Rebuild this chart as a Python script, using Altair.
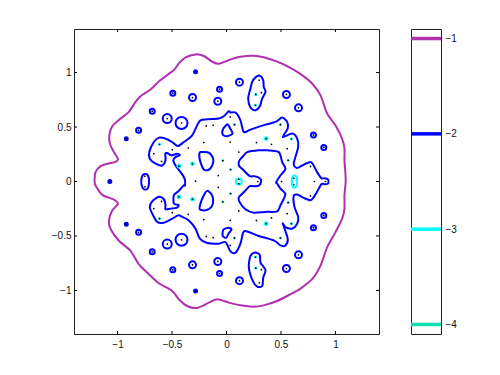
import altair as alt
import pandas as pd

# level -1 outer contour
c1 = [(-1.211,0.003),(-1.202,.086),(-1.156,.141),(-1.095,.163),(-1.018,.181),(-.997,.209),(-1.034,.27),(-1.07,.347),(-1.076,.424),(-1.049,.507),(-.972,.578),(-.896,.639),(-.835,.731),(-.789,.783),(-.697,.845),(-.606,.931),(-.483,1.023),(-.437,1.085),(-.376,1.14),(-.284,1.167),(-.208,1.152),(-.131,1.1),(-.07,1.081),(.037,1.12),(.128,1.146),(.25,1.155),(.342,1.14),(.465,1.1),(.587,1.044),(.694,.977),(.786,.9),(.862,.793),(.924,.624),(1.0,.516),(1.061,.393),(1.083,.301),(1.083,.194),(1.092,.071),(1.094,-.006),(1.083,-.129),(1.083,-.252),(1.061,-.344),(1.0,-.467),(.924,-.605),(.862,-.774),(.786,-.897),(.679,-.983),(.587,-1.035),(.465,-1.097),(.342,-1.137),(.25,-1.149),(.128,-1.137),(.021,-1.112),(-.085,-1.081),(-.162,-1.112),(-.269,-1.161),(-.361,-1.143),(-.438,-1.081),(-.498,-1.005),(-.621,-.934),(-.713,-.851),(-.805,-.759),(-.881,-.636),(-.988,-.544),(-1.064,-.436),(-1.08,-.359),(-1.049,-.267),(-.997,-.206),(-1.034,-.166),(-1.14,-.123),(-1.202,-.037)]

# level -2 contours
main2 = [(-.382,-.037),(-.382,.016),(-.406,.065),(-.468,.147),(-.489,.194),(-.468,.224),(-.428,.24),(-.452,.255),(-.507,.24),(-.544,.261),(-.562,.255),(-.56,.194),(-.59,.147),(-.651,.163),(-.704,.209),(-.709,.27),(-.667,.362),(-.621,.403),(-.56,.394),(-.498,.362),(-.447,.325),(-.392,.362),(-.315,.424),(-.269,.516),(-.239,.562),(-.177,.571),(-.071,.578),(-.025,.599),(.021,.645),(.037,.633),(.083,.633),(.128,.562),(.159,.454),(.22,.476),(.358,.522),(.45,.547),(.511,.587),(.557,.547),(.562,.486),(.517,.408),(.603,.44),(.649,.394),(.658,.316),(.617,.163),(.649,.123),(.694,.147),(.771,.178),(.80,.147),(.832,.086),(.871,.03),(.902,.03),(.933,.018),(.933,-.018),(.902,-.025),(.871,-.025),(.832,-.092),(.80,-.145),(.771,-.172),(.709,-.15),(.649,-.12),(.617,-.132),(.624,-.233),(.658,-.325),(.649,-.387),(.603,-.433),(.541,-.418),(.517,-.387),(.562,-.525),(.541,-.587),(.495,-.587),(.434,-.541),(.296,-.5),(.174,-.454),(.15,-.479),(.128,-.571),(.083,-.654),(.037,-.642),(-.009,-.556),(-.071,-.571),(-.177,-.565),(-.245,-.525),(-.284,-.433),(-.346,-.357),(-.406,-.325),(-.443,-.311),(-.498,-.341),(-.575,-.378),(-.636,-.371),(-.682,-.295),(-.704,-.233),(-.682,-.182),(-.621,-.141),(-.575,-.163),(-.56,-.212),(-.56,-.255),(-.514,-.249),(-.459,-.242),(-.438,-.218),(-.483,-.203),(-.483,-.126),(-.438,-.086),(-.392,-.034)]
hole2 = [(.119,.194),(.159,.24),(.19,.27),(.296,.286),(.373,.286),(.48,.27),(.511,.178),(.541,.117),(.495,.055),(.456,-.006),(.465,-.018),(.495,-.065),(.541,-.117),(.495,-.218),(.465,-.274),(.358,-.279),(.25,-.286),(.174,-.255),(.119,-.187),(.113,-.145),(.165,-.092),(.214,-.043),(.25,-.043),(.296,-.037),(.318,0),(.306,.03),(.257,.049),(.214,.049),(.159,.101),(.113,.147)]
left_inner_up = [(-.239,.27),(-.162,.264),(-.122,.209),(-.131,.147),(-.162,.108),(-.208,.11),(-.239,.178),(-.25,.24)]
left_inner_dn = [(-.177,-.086),(-.138,-.117),(-.122,-.172),(-.138,-.233),(-.193,-.264),(-.245,-.255),(-.239,-.203),(-.208,-.126)]
top_blob = [(-.039,.442),(-.028,.488),(.009,.525),(.028,.498),(.055,.442),(.018,.419),(-.018,.419)]
bottom_blob = [(-.037,-.488),(-.028,-.442),(.018,-.424),(.046,-.44),(.018,-.479),(0,-.516),(-.028,-.507)]
peanut_up = [(.266,.956),(.306,.971),(.337,.931),(.342,.869),(.358,.823),(.328,.762),(.306,.691),(.266,.654),(.22,.679),(.199,.762),(.22,.854),(.236,.915)]
peanut_dn = [(.266,-.651),(.306,-.676),(.312,-.744),(.358,-.814),(.337,-.882),(.328,-.959),(.282,-.965),(.241,-.912),(.205,-.79),(.22,-.682)]
left_loop = [(-.78,.03),(-.759,.067),(-.728,.065),(-.713,.03),(-.713,-.03),(-.728,-.069),(-.759,-.071),(-.78,-.03)]

# level -3 contours
cyan_tall = [(.624,.058),(.646,.035),(.648,0),(.646,-.035),(.624,-.058),(.602,-.035),(.6,0),(.602,.035)]

# rings, grouped by how wide they look
rings_tiny = [(-1.071,0),(-.92,.393),(-.284,1.007),(-.92,-.393),(-.284,-1.005)]
rings_small = [(-.682,.645),(-.493,.811),(-.064,.848),(-.807,.47),(.798,.427),(.893,.313),(-.682,-.645),(-.493,-.811),(-.064,-.845),(-.807,-.467),(.798,-.424),(.893,-.311)]
rings_mid = [(-.312,.771),(-.08,.737),(.119,.912),(.55,.799),(.661,.676),(-.312,-.765),(-.08,-.734),(.119,-.91),(.55,-.799),(.661,-.673)]
rings_big = [(-.544,.578),(-.544,-.574)]
rings_huge = [(-.413,.537),(-.413,-.535)]
cyan_ring = [(.113,0)]

# cyan spots
cyan_big = [(-.437,.141),(-.312,.163),(.364,.394),(-.437,-.141),(-.312,-.163),(.364,-.387)]
cyan_small = [(-.615,.341),(-.034,.191),(.495,.522),(.596,.39),(.566,.194),(.073,.522),(.266,.70),(.037,.11),(.269,.799),(-.615,-.341),(-.034,-.187),(.495,-.519),(.596,-.387),(.566,-.194),(.073,-.519),(.266,-.694),(.037,-.111),(.269,-.796)]

# other roots (black dots)
dots = [(-.186,.51),(-.122,.516),(.034,.362),(-.208,.357),(-.351,.307),(-.498,.292),(-.667,.255),(-.596,.184),(-.076,.055),(-.284,.003),(-.749,.049),(-.749,-.049),(.034,.593),(.113,.27),(.275,.357),(.413,.341),(.557,.301),(.771,.138),(.505,0),(.807,0),(.908,0),(.287,0),(.113,.02),(.113,-.02),(.618,.03),(.618,-.03),(.30,.93),(.32,.815),(-.596,-.182),(-.667,-.249),(-.498,-.286),(-.351,-.301),(-.208,-.35),(-.186,-.504),(-.122,-.516),(.034,-.357),(-.076,-.055),(.113,-.27),(.275,-.357),(.413,-.335),(.557,-.295),(.771,-.132),(.034,-.587),(.32,-.81),(.30,-.93)]

x_ticks = [-1, -0.5, 0, 0.5, 1]
y_ticks = [-1, -0.5, 0, 0.5, 1]
levels = [-1, -2, -3, -4]
level_colors = ["#B030B0", "#0000FF", "#00FFFF", "#10E0B0"]
DOM = [-1.4, 1.4]
W = H = 305

def frame(pts):
    return pd.DataFrame(pts, columns=["x", "y"]).assign(i=lambda d: range(len(d)))

def contours(named):
    return pd.concat([frame(p).assign(c=k) for k, p in named.items()], ignore_index=True)

x_scale = alt.Scale(domain=DOM, nice=False, zero=False)
y_scale = alt.Scale(domain=DOM, nice=False, zero=False)
x_axis = alt.Axis(values=x_ticks, format="~g", title=None, ticks=False, domain=False, grid=False, labelPadding=5)
y_axis = alt.Axis(values=y_ticks, format="~g", title=None, ticks=False, domain=False, grid=False,
                  labelPadding=3, minExtent=25, maxExtent=25)
X = alt.X("x:Q", scale=x_scale, axis=x_axis)
Y = alt.Y("y:Q", scale=y_scale, axis=y_axis)

def lines(named, color, width=2):
    return alt.Chart(contours(named)).mark_line(
        interpolate="cardinal-closed", tension=0.2, color=color, strokeWidth=width
    ).encode(x=X, y=Y, detail="c:N", order="i:Q")

def ring(pts, size, color="#0000FF", width=2):
    return alt.Chart(frame(pts)).mark_point(
        shape="circle", filled=False, size=size, color=color, strokeWidth=width, opacity=1
    ).encode(x=X, y=Y)

def spot(pts, size, color):
    return alt.Chart(frame(pts)).mark_point(
        shape="circle", filled=True, size=size, color=color, opacity=1
    ).encode(x=X, y=Y)

tx = pd.DataFrame({"t": x_ticks})
ty = pd.DataFrame({"t": y_ticks})
tX = alt.X("t:Q", scale=x_scale, axis=x_axis)
tY = alt.Y("t:Q", scale=y_scale, axis=y_axis)
tick_layers = [
    alt.Chart(tx).mark_rule(color="black", strokeWidth=1).encode(x=tX, y=alt.value(0), y2=alt.value(3)),
    alt.Chart(tx).mark_rule(color="black", strokeWidth=1).encode(x=tX, y=alt.value(H - 3), y2=alt.value(H)),
    alt.Chart(ty).mark_rule(color="black", strokeWidth=1).encode(y=tY, x=alt.value(0), x2=alt.value(3)),
    alt.Chart(ty).mark_rule(color="black", strokeWidth=1).encode(y=tY, x=alt.value(W - 3), x2=alt.value(W)),
]

all_rings = rings_tiny + rings_small + rings_mid + rings_big + rings_huge

main = alt.layer(
    lines({"c1": c1}, level_colors[0]),
    lines({"main": main2, "hole": hole2, "liu": left_inner_up, "lid": left_inner_dn,
           "tb": top_blob, "bb": bottom_blob, "pu": peanut_up, "pd": peanut_dn, "ll": left_loop}, level_colors[1]),
    ring(rings_tiny, 9),
    ring(rings_small, 25),
    ring(rings_mid, 49),
    ring(rings_big, 81),
    ring(rings_huge, 144),
    lines({"ct": cyan_tall}, level_colors[2]),
    ring(cyan_ring, 36, level_colors[2]),
    spot(cyan_big, 22, level_colors[2]),
    spot(cyan_small, 8, level_colors[2]),
    spot(all_rings + cyan_big + cyan_small + dots, 3, "black"),
    *tick_layers,
).properties(width=W, height=H)

cb = pd.DataFrame({"level": levels, "color": level_colors})
bar = alt.Chart(cb).mark_rule(strokeWidth=3.5).encode(
    y=alt.Y("level:Q", scale=alt.Scale(domain=[-4.1, -0.9], nice=False, zero=False),
            axis=alt.Axis(orient="right", values=levels, format="d", title=None, ticks=False, domain=False,
                          grid=False, labelPadding=4)),
    color=alt.Color("color:N", scale=None),
).properties(width=30, height=H)

chart = alt.hconcat(main, bar, spacing=28).properties(
    padding={"left": 40, "top": 20, "right": 5, "bottom": 5}, background="white"
).configure_view(stroke="#222222", strokeWidth=1).configure_axis(
    labelFont="Liberation Sans", labelFontSize=10, labelColor="#111111"
)

chart.save("out.html", embed_options={"renderer": "svg", "actions": False})
